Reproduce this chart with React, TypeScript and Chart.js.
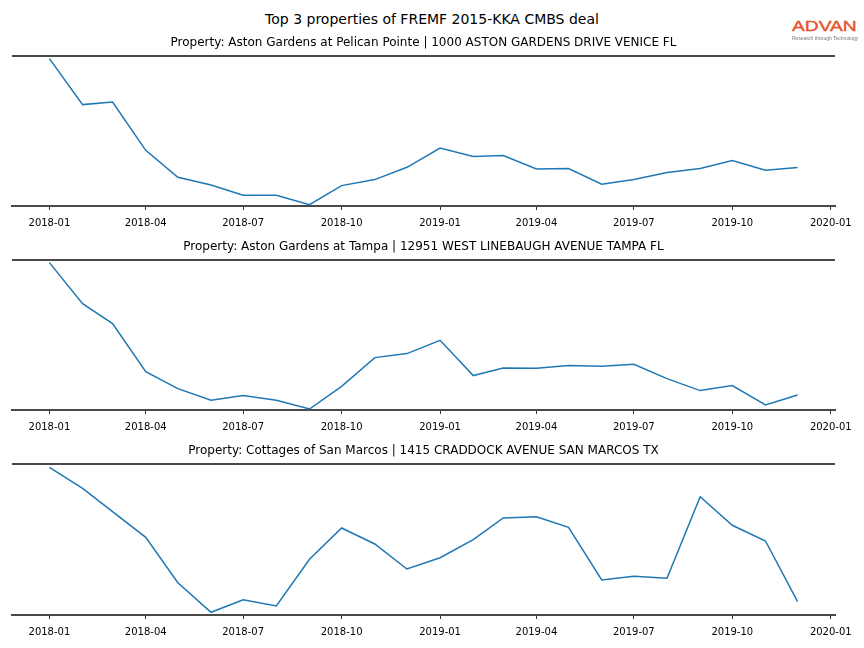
import React, { useEffect, useRef } from "react";
import { Chart, registerables } from "chart.js";

Chart.register(...registerables);
Chart.defaults.font.family = "'DejaVu Sans', sans-serif";

const mainTitle = "Top 3 properties of FREMF 2015-KKA CMBS deal";

const months = [
  "2018-01", "2018-02", "2018-03", "2018-04", "2018-05", "2018-06",
  "2018-07", "2018-08", "2018-09", "2018-10", "2018-11", "2018-12",
  "2019-01", "2019-02", "2019-03", "2019-04", "2019-05", "2019-06",
  "2019-07", "2019-08", "2019-09", "2019-10", "2019-11", "2019-12",
];

const tickLabels = [
  "2018-01", "2018-04", "2018-07", "2018-10", "2019-01",
  "2019-04", "2019-07", "2019-10", "2020-01",
];

const titles = [
  "Property: Aston Gardens at Pelican Pointe | 1000 ASTON GARDENS DRIVE VENICE FL",
  "Property: Aston Gardens at Tampa | 12951 WEST LINEBAUGH AVENUE TAMPA FL",
  "Property: Cottages of San Marcos | 1415 CRADDOCK AVENUE SAN MARCOS TX",
];

const veniceValues = [
  147.4, 101.4, 104.0, 55.7, 28.7, 21.0, 10.7, 10.7, 1.4, 20.4, 26.4, 38.7,
  58.0, 49.4, 50.4, 37.0, 37.4, 21.7, 26.4, 33.4, 37.4, 45.4, 35.7, 38.4,
];

const tampaValues = [
  147.4, 106.4, 86.4, 38.4, 21.4, 9.7, 14.4, 9.7, 1.0, 23.7, 52.4, 56.4,
  69.7, 34.4, 42.0, 41.7, 44.4, 43.7, 45.7, 31.4, 19.4, 24.4, 5.0, 15.0,
];

const sanMarcosValues = [
  147.7, 126.7, 103.3, 77.7, 32.3, 2.7, 15.3, 9.0, 55.7, 87.0, 71.0, 46.0,
  57.3, 75.3, 97.0, 98.3, 87.7, 35.0, 38.7, 36.7, 118.3, 89.7, 74.0, 13.3,
];

const yMaxes = [150, 150, 151];

const toDay = (s: string) =>
  Date.UTC(Number(s.slice(0, 4)), Number(s.slice(5, 7)) - 1, 1) / 86400000;

const firstDay = toDay(months[0]);
const lastDay = toDay(months[months.length - 1]);
const span = lastDay - firstDay;
const xMin = firstDay - 0.05 * span;
const xMax = lastDay + 0.05 * span;
const tickDays = tickLabels.map(toDay);

const SPINE = "#4a4a4a";

const topSpine = {
  id: "topSpine",
  afterDraw(chart: any) {
    const { ctx, chartArea } = chart;
    ctx.save();
    ctx.strokeStyle = SPINE;
    ctx.lineWidth = 2;
    ctx.beginPath();
    ctx.moveTo(chartArea.left, chartArea.top);
    ctx.lineTo(chartArea.right, chartArea.top);
    ctx.stroke();
    ctx.restore();
  },
};

function Panel({ values, yMax, top }: { values: number[]; yMax: number; top: number }) {
  const ref = useRef<HTMLCanvasElement>(null);
  const height = 10 + yMax + 30;
  useEffect(() => {
    const chart = new Chart(ref.current as HTMLCanvasElement, {
      type: "line",
      data: {
        datasets: [
          {
            data: months.map((m, i) => ({ x: toDay(m), y: values[i] })),
            borderColor: "#1f77b4",
            borderWidth: 1.5,
            pointRadius: 0,
            tension: 0,
            fill: false,
          },
        ],
      },
      options: {
        responsive: false,
        animation: false,
        maintainAspectRatio: false,
        layout: { padding: { top: 10, left: 12, right: 29, bottom: 0 } },
        plugins: {
          legend: { display: false },
          tooltip: { enabled: false },
          title: { display: false },
        },
        scales: {
          x: {
            type: "linear",
            min: xMin,
            max: xMax,
            afterBuildTicks: (axis: any) => {
              axis.ticks = tickDays.map((v) => ({ value: v }));
            },
            afterFit: (axis: any) => {
              axis.height = 30;
            },
            ticks: {
              autoSkip: false,
              maxRotation: 0,
              minRotation: 0,
              padding: 7,
              color: "#000",
              font: { size: 10 },
              callback: (v: any) => {
                const idx = tickDays.indexOf(Number(v));
                return idx >= 0 ? tickLabels[idx] : "";
              },
            },
            grid: {
              display: true,
              drawOnChartArea: false,
              drawTicks: true,
              tickLength: 4,
              color: "#333",
              lineWidth: 1,
            },
            border: { display: true, color: SPINE, width: 2 },
          },
          y: { display: false, min: 0, max: yMax },
        },
      } as any,
      plugins: [topSpine],
    });
    return () => chart.destroy();
  }, []);
  return (
    <canvas
      ref={ref}
      width={864}
      height={height}
      style={{ position: "absolute", left: 0, top: top - 10, width: 864, height }}
    />
  );
}

const panelValues = [veniceValues, tampaValues, sanMarcosValues];
const panelTops = [56, 260, 464];

export default function App() {
  return (
    <div
      style={{
        position: "fixed",
        left: 0,
        top: 0,
        width: 864,
        height: 648,
        background: "#fff",
        fontFamily: "'DejaVu Sans', sans-serif",
        color: "#000",
        overflow: "hidden",
      }}
    >
      {panelValues.map((vals, i) => (
        <Panel key={i} values={vals} yMax={yMaxes[i]} top={panelTops[i]} />
      ))}
      <div
        style={{
          position: "absolute",
          left: 0,
          width: 864,
          top: 11,
          textAlign: "center",
          fontSize: 14,
          lineHeight: "16px",
          zIndex: 2,
        }}
      >
        {mainTitle}
      </div>
      {titles.map((t, i) => (
        <div
          key={i}
          style={{
            position: "absolute",
            left: 12,
            width: 823,
            top: panelTops[i] - 21,
            textAlign: "center",
            fontSize: 12,
            lineHeight: "14px",
            whiteSpace: "nowrap",
            zIndex: 2,
          }}
        >
          {t}
        </div>
      ))}
      <div
        style={{
          position: "absolute",
          left: 792,
          top: 18,
          fontFamily: "'Liberation Sans', Arial, sans-serif",
          fontSize: 15,
          lineHeight: "15px",
          color: "#e4532a",
          whiteSpace: "nowrap",
          transform: "scaleX(1.28)",
          transformOrigin: "left top",
          WebkitTextStroke: "0.4px #e4532a",
          zIndex: 2,
        }}
      >
        ADVAN
      </div>
      <div
        style={{
          position: "absolute",
          left: 792,
          top: 35,
          width: 66,
          textAlign: "center",
          fontFamily: "'Liberation Sans', Arial, sans-serif",
          fontSize: 5,
          lineHeight: "6px",
          color: "#777",
          whiteSpace: "nowrap",
          zIndex: 2,
        }}
      >
        Research through Technology
      </div>
    </div>
  );
}
